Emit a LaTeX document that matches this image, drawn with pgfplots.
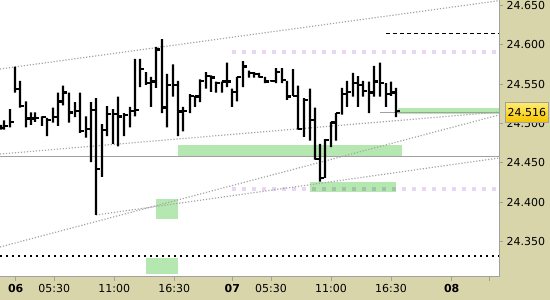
\documentclass[border=0pt]{standalone}
\usepackage{fontspec}
\setmainfont{DejaVu Sans}
\usepackage{pgfplots}
\usepackage{pgfplotstable}
\pgfplotsset{compat=1.18}

\definecolor{khaki}{RGB}{217,213,170}
\definecolor{zone}{RGB}{181,232,176}
\definecolor{lav}{RGB}{232,214,242}
\definecolor{chan}{RGB}{165,165,165}
\definecolor{frame}{RGB}{160,160,160}
\definecolor{goldtop}{RGB}{255,236,110}
\definecolor{goldbot}{RGB}{245,196,0}

\pgfdeclareplotmark{closetick}{%
  \pgfpathmoveto{\pgfqpoint{0pt}{0pt}}%
  \pgfpathlineto{\pgfqpoint{3.8pt}{0pt}}%
  \pgfusepathqstroke}

\pgfplotstableread{
x h l c
1 24.498 24.492 24.494
4 24.504 24.492 24.497
10 24.518 24.495 24.502
15 24.572 24.539 24.544
20 24.554 24.520 24.522
26 24.528 24.495 24.506
31 24.514 24.498 24.506
35 24.514 24.502 24.507
42 24.509 24.497 24.508
47 24.507 24.484 24.504
53 24.520 24.501 24.508
58 24.539 24.497 24.528
63 24.548 24.523 24.539
69 24.539 24.501 24.514
75 24.527 24.508 24.516
80 24.539 24.488 24.490
86 24.509 24.482 24.493
91 24.527 24.451 24.517
96 24.532 24.384 24.442
102 24.499 24.432 24.492
107 24.522 24.484 24.512
113 24.518 24.474 24.512
118 24.534 24.471 24.509
124 24.513 24.484 24.511
130 24.521 24.495 24.516
135 24.582 24.509 24.517
140 24.582 24.546 24.569
146 24.565 24.549 24.551
151 24.559 24.521 24.553
156 24.597 24.545 24.594
162 24.607 24.513 24.520
167 24.563 24.495 24.549
173 24.575 24.534 24.549
178 24.554 24.484 24.515
183 24.521 24.490 24.516
190 24.537 24.513 24.535
195 24.535 24.521 24.534
200 24.556 24.527 24.554
206 24.565 24.544 24.560
211 24.561 24.540 24.558
216 24.553 24.539 24.551
222 24.553 24.539 24.553
227 24.577 24.546 24.553
232 24.544 24.521 24.540
237 24.559 24.528 24.559
243 24.579 24.546 24.572
249 24.567 24.558 24.564
254 24.565 24.558 24.563
259 24.564 24.558 24.559
265 24.559 24.551 24.553
271 24.555 24.553 24.554
276 24.570 24.551 24.565
282 24.570 24.551 24.555
287 24.554 24.530 24.534
293 24.569 24.535 24.535
298 24.548 24.492 24.493
304 24.532 24.483 24.530
310 24.544 24.478 24.504
315 24.520 24.454 24.455
320 24.474 24.426 24.431
325 24.480 24.431 24.479
331 24.502 24.470 24.501
336 24.513 24.478 24.513
342 24.545 24.511 24.537
347 24.554 24.521 24.540
353 24.564 24.534 24.551
358 24.560 24.521 24.549
363 24.554 24.534 24.541
369 24.553 24.513 24.539
374 24.573 24.534 24.553
380 24.577 24.534 24.551
386 24.551 24.521 24.537
391 24.553 24.535 24.539
396 24.545 24.508 24.516
}\bars

\pgfplotsset{chartframe/.style={
  at={(0pt,23pt)}, anchor=south west,
  width=499pt, height=277pt, scale only axis,
  xmin=0, xmax=499, ymin=24.3051, ymax=24.6566}}

\begin{document}
\begin{tikzpicture}
\fill[khaki] (0,0) rectangle (550pt,300pt);
\useasboundingbox (0,0) rectangle (550pt,300pt);
\begin{axis}[
  chartframe,
  axis x line*=bottom, axis y line*=right,
  axis line style={draw=frame, line width=1pt},
  axis background/.style={fill=white},
  tick align=outside,
  major tick length=4pt,
  tick style={draw=frame, line width=1pt},
  xtick={15.7,54.3,114.3,174.3,232.3,271,331,391,451.7,489},
  xticklabels={\textbf{06},05:30,11:00,16:30,\textbf{07},05:30,11:00,16:30,\textbf{08},{}},
  ytick={24.35,24.40,24.45,24.50,24.55,24.60,24.65},
  yticklabels={24.350,24.400,24.450,24.500,24.550,24.600,24.650},
  tick label style={font=\fontsize{11}{13}\selectfont, text=black},
]
% lavender support/resistance
\addplot[lav, line width=3.5pt, dash pattern=on 4pt off 6pt] coordinates {(232,24.5906) (499,24.5906)};
\addplot[lav, line width=3.5pt, dash pattern=on 4pt off 6pt] coordinates {(232,24.4168) (499,24.4168)};
% green zones
\addplot[draw=none, fill=zone, blend mode=multiply] coordinates {(178,24.4726) (402,24.4726) (402,24.4574) (178,24.4574)} -- cycle;
\addplot[draw=none, fill=zone, blend mode=multiply] coordinates {(398,24.5195) (499,24.5195) (499,24.5119) (398,24.5119)} -- cycle;
\addplot[draw=none, fill=zone, blend mode=multiply] coordinates {(310,24.4256) (396,24.4256) (396,24.4130) (310,24.4130)} -- cycle;
\addplot[draw=none, fill=zone, blend mode=multiply] coordinates {(156,24.4041) (178,24.4041) (178,24.3787) (156,24.3787)} -- cycle;
\addplot[draw=none, fill=zone, blend mode=multiply] coordinates {(146,24.3292) (178,24.3292) (178,24.3089) (146,24.3089)} -- cycle;
% channel lines
\addplot[chan, line width=1.2pt, dash pattern=on 1.2pt off 1.8pt] coordinates {(0,24.5690) (499,24.6557)};
\addplot[chan, line width=1.2pt, dash pattern=on 1.2pt off 1.8pt] coordinates {(0,24.4612) (499,24.5145)};
\addplot[chan, line width=1.2pt, dash pattern=on 1.2pt off 1.8pt] coordinates {(0,24.3432) (499,24.5107)};
\addplot[chan, line width=1.2pt, dash pattern=on 1.2pt off 1.8pt] coordinates {(96,24.3838) (499,24.4561)};
% horizontal lines
\addplot[frame, line width=1pt] coordinates {(0,24.4586) (499,24.4586)};
\addplot[frame, line width=1pt] coordinates {(380,24.5135) (499,24.5135)};
\addplot[black, line width=1pt, dash pattern=on 4pt off 3pt] coordinates {(386,24.6135) (499,24.6135)};
\addplot[black, line width=2pt, dash pattern=on 2pt off 4pt] coordinates {(0,24.3317) (499,24.3317)};
% close ticks
\addplot[black, only marks, mark=closetick,
  mark options={line width=2.4pt, line cap=butt, solid, black}]
  table[x=x, y=c] {\bars};
\coordinate (pricept) at (axis cs:499,24.5138);
\end{axis}
% price bars (high-low) as filled stacked bars in an overlay axis
\begin{axis}[chartframe, hide axis, ybar stacked, bar width=2.4pt]
\addplot[draw=none, fill=none, bar shift=0pt] table[x=x, y=l] {\bars};
\addplot[draw=none, fill=black, bar shift=0pt] table[x=x, y expr=\thisrow{h}-\thisrow{l}] {\bars};
\end{axis}
\node[anchor=west, draw=frame, line width=0.8pt, top color=goldtop, bottom color=goldbot,
  inner xsep=2.3pt, inner ysep=0pt, minimum height=20pt,
  font=\fontsize{11}{13}\selectfont] at ([xshift=6pt]pricept) {24.516};
\end{tikzpicture}
\end{document}
